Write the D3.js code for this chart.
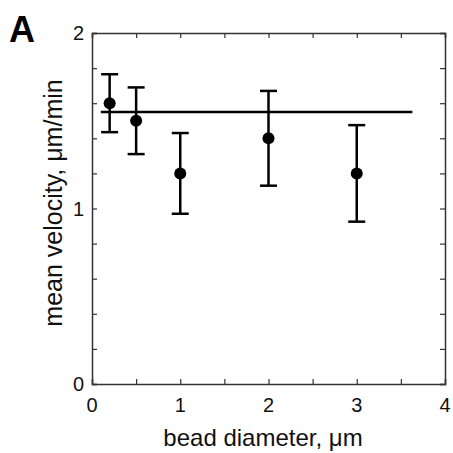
<!DOCTYPE html>
<html>
<head>
<meta charset="utf-8">
<script src="https://cdn.jsdelivr.net/npm/d3@7"></script>
<style>
html,body{margin:0;padding:0;background:#fff;}
svg{display:block;font-family:"Liberation Sans",Arial,sans-serif;}
</style>
</head>
<body>
<svg id="chart" width="453" height="453"></svg>
<script>
const diameters = [0.2, 0.5, 1, 2, 3];
const velocities = [1.6, 1.5, 1.2, 1.4, 1.2];
const errors = [0.165, 0.19, 0.23, 0.27, 0.275];
const meanLine = {x0: 0.1, x1: 3.63, y: 1.55};
const xTickLabels = [0, 1, 2, 3, 4];
const yTickLabels = [0, 1, 2];

const W = 453, H = 453;
const m = {left: 92, top: 33, right: 8, bottom: 69};
const svg = d3.select("#chart");
const x = d3.scaleLinear().domain([0, 4]).range([m.left, W - m.right]);
const y = d3.scaleLinear().domain([0, 2]).range([H - m.bottom, m.top]);

const frameColor = "#333";
const tickLen = 5;

const xt = d3.range(0, 4.0001, 0.5);
const yt = d3.range(0, 2.0001, 0.2);
const axB = d3.axisBottom(x).tickValues(xt).tickSize(-tickLen).tickFormat("");
const axT = d3.axisTop(x).tickValues(xt).tickSize(-tickLen).tickFormat("");
const axL = d3.axisLeft(y).tickValues(yt).tickSize(-tickLen).tickFormat("");
const axR = d3.axisRight(y).tickValues(yt).tickSize(-tickLen).tickFormat("");
function styleAxis(g){
  g.select(".domain").attr("stroke", frameColor).attr("stroke-width", 1.5);
  g.selectAll(".tick line").attr("stroke", frameColor).attr("stroke-width", 1.2);
}
svg.append("g").attr("transform", `translate(0,${y(0)})`).call(axB).call(styleAxis);
svg.append("g").attr("transform", `translate(0,${y(2)})`).call(axT).call(styleAxis);
svg.append("g").attr("transform", `translate(${x(0)},0)`).call(axL).call(styleAxis);
svg.append("g").attr("transform", `translate(${x(4)},0)`).call(axR).call(styleAxis);

svg.append("g").selectAll("text").data(xTickLabels).join("text")
  .attr("x", d => x(d)).attr("y", y(0) + 28)
  .attr("text-anchor", "middle").attr("font-size", 20).attr("fill", "#111")
  .text(d => d);
svg.append("g").selectAll("text").data(yTickLabels).join("text")
  .attr("x", x(0) - 8).attr("y", d => y(d) + 7)
  .attr("text-anchor", "end").attr("font-size", 20).attr("fill", "#111")
  .text(d => d);

svg.append("text").attr("x", 263).attr("y", 446)
  .attr("text-anchor", "middle").attr("font-size", 24).attr("fill", "#111")
  .text("bead diameter, μm");
svg.append("text").attr("transform", "translate(62,203) rotate(-90)")
  .attr("text-anchor", "middle").attr("font-size", 25).attr("fill", "#111")
  .text("mean velocity, μm/min");

svg.append("text").attr("x", 9).attr("y", 42)
  .attr("font-size", 36).attr("font-weight", "bold").attr("fill", "#000")
  .text("A");

svg.append("line")
  .attr("x1", x(meanLine.x0)).attr("x2", x(meanLine.x1))
  .attr("y1", y(meanLine.y)).attr("y2", y(meanLine.y))
  .attr("stroke", "#000").attr("stroke-width", 2.5);

const data = diameters.map((d, i) => ({x: d, y: velocities[i], e: errors[i]}));
const eb = svg.append("g").attr("stroke", "#000").attr("stroke-width", 2.5);
const cap = 8.5;
data.forEach(d => {
  eb.append("line").attr("x1", x(d.x)).attr("x2", x(d.x)).attr("y1", y(d.y - d.e)).attr("y2", y(d.y + d.e));
  eb.append("line").attr("x1", x(d.x) - cap).attr("x2", x(d.x) + cap).attr("y1", y(d.y + d.e)).attr("y2", y(d.y + d.e));
  eb.append("line").attr("x1", x(d.x) - cap).attr("x2", x(d.x) + cap).attr("y1", y(d.y - d.e)).attr("y2", y(d.y - d.e));
});
svg.append("g").selectAll("circle").data(data).join("circle")
  .attr("cx", d => x(d.x)).attr("cy", d => y(d.y)).attr("r", 6).attr("fill", "#000");
</script>
</body>
</html>
